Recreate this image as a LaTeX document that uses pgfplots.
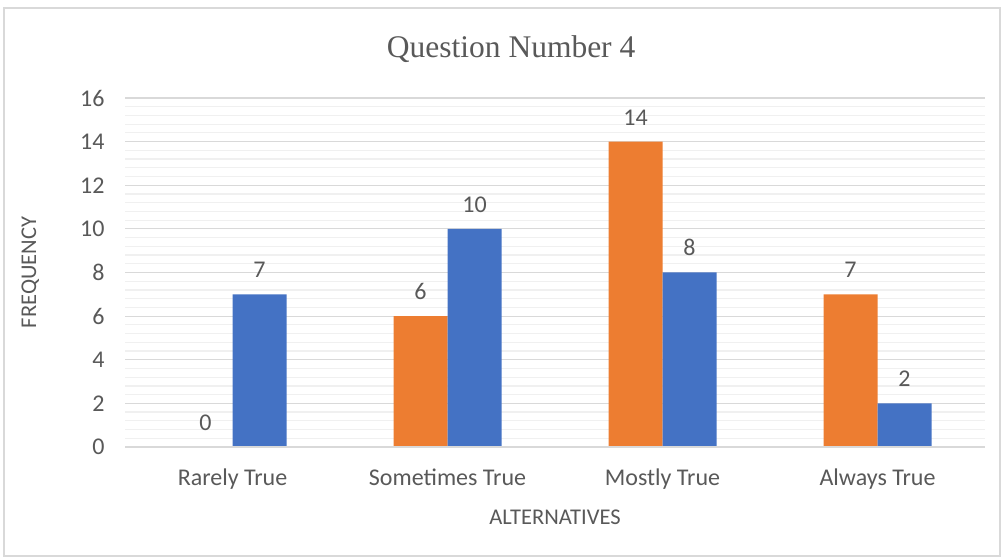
\documentclass[border=0pt]{standalone}
\usepackage{pgfplots}
\pgfplotsset{compat=1.18}
\usepackage{fontspec}
\setmainfont{Carlito}
\newfontfamily\titlefont{Liberation Serif}
\definecolor{txt}{HTML}{595959}
\definecolor{gridmaj}{HTML}{D9D9D9}
\definecolor{gridmin}{HTML}{F0F0F0}
\definecolor{cOrange}{HTML}{ED7D31}
\definecolor{cBlue}{HTML}{4472C4}
\definecolor{frame}{HTML}{D9D9D9}
\begin{document}
\begin{tikzpicture}[x=1bp,y=1bp]
\useasboundingbox (0,0) rectangle (1003,558);
\fill[white] (0,0) rectangle (1003,558);
\draw[frame, line width=1.2bp] (4,2) rectangle (1000,550);
\begin{axis}[
  at={(125bp,111bp)}, anchor=south west,
  scale only axis, width=860bp, height=349bp,
  xmin=-0.5, xmax=3.5, ymin=0, ymax=16,
  ybar=0pt, bar width=54bp,
  axis line style={draw=none},
  major tick length=0pt, minor tick length=0pt,
  xtick={0,1,2,3},
  xticklabels={Rarely True, Sometimes True, Mostly True, Always True},
  ytick={0,2,...,16}, minor y tick num=4,
  ymajorgrids, yminorgrids,
  major grid style={color=gridmaj, line width=1.2bp},
  minor grid style={color=gridmin, line width=1.2bp},
  /pgf/number format/assume math mode=true,
  tick label style={color=txt, font=\fontsize{24bp}{28bp}\selectfont},
  yticklabel style={xshift=-17bp},
  xticklabel style={yshift=-18bp},
  ylabel={FREQUENCY}, xlabel={ALTERNATIVES},
  label style={color=txt, font=\fontsize{22.5bp}{26bp}\selectfont},
  ylabel style={at={(axis description cs:-0.11,0.5)}, anchor=center},
  xlabel style={at={(axis description cs:0.5,-0.2)}, anchor=center},
  title={Question Number 4},
  title style={at={(axis description cs:0.449,1.123)}, anchor=center, color=txt, font=\titlefont\fontsize{31.5bp}{36bp}\selectfont},
  nodes near coords,
  nodes near coords style={color=txt, font=\fontsize{24bp}{28bp}\selectfont, yshift=13bp},
  clip=false,
]
\addplot[fill=cOrange, draw=none] coordinates {(0,0) (1,6) (2,14) (3,7)};
\addplot[fill=cBlue, draw=none] coordinates {(0,7) (1,10) (2,8) (3,2)};
\draw[gridmaj, line width=1.2bp] (axis cs:-0.5,0) -- (axis cs:3.5,0);
\end{axis}
\end{tikzpicture}
\end{document}
